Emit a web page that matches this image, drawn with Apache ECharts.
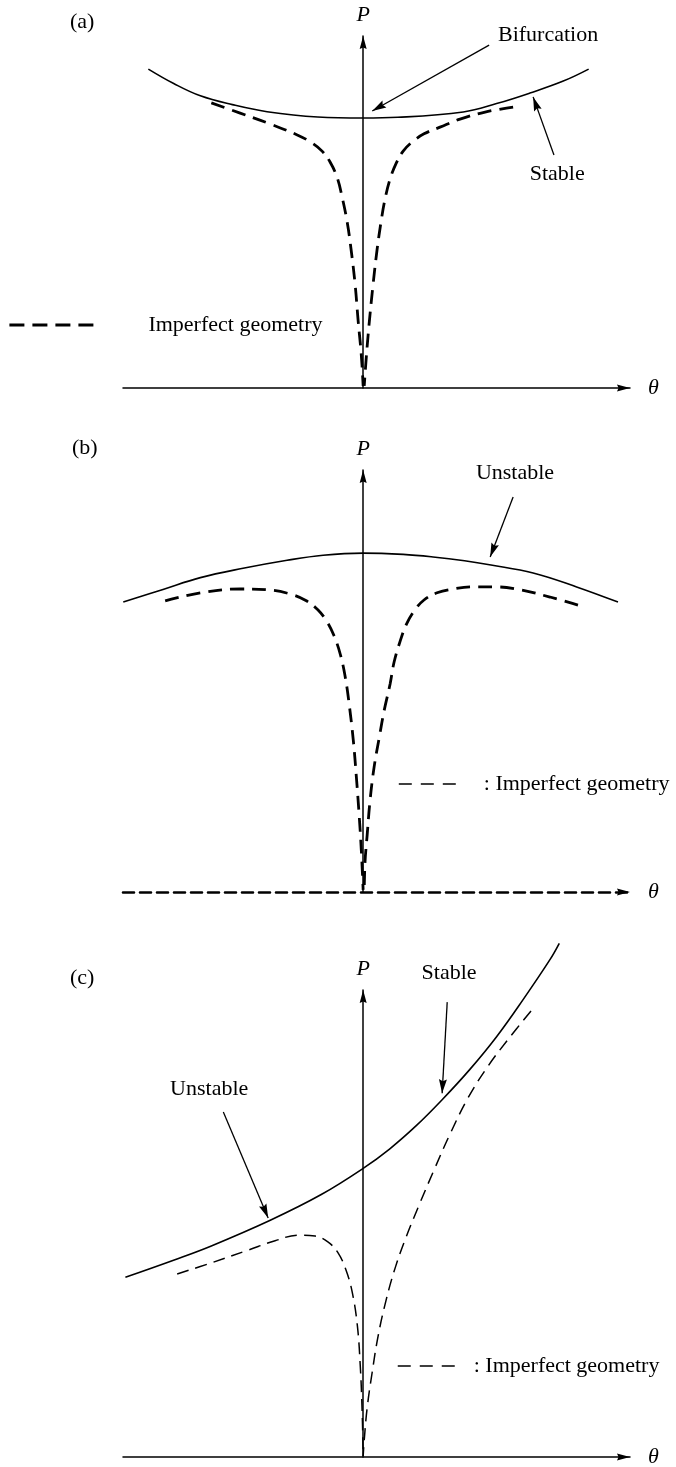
<!DOCTYPE html>
<html>
<head>
<meta charset="utf-8">
<script src="https://cdn.jsdelivr.net/npm/echarts@6/dist/echarts.min.js"></script>
<style>
  html, body { margin: 0; padding: 0; background: #fff; }
  #chart { width: 676px; height: 1467px; }
</style>
</head>
<body>
<div id="chart"></div>
<script>
// Load P against rotation θ: perfect path (solid) and imperfect-geometry path (dashed)
// for three kinds of bifurcation.

const thetaRange = [-0.9, 1.0];
const loadRange = [0, 1];

// (a) stable symmetric bifurcation
const perfectA = [[-0.805, 0.906], [-0.71, 0.865], [-0.61, 0.830], [-0.49, 0.805], [-0.36, 0.785],
  [-0.17, 0.770], [0, 0.767], [0.13, 0.769], [0.375, 0.784], [0.50, 0.808], [0.625, 0.838],
  [0.75, 0.872], [0.845, 0.906]];
const imperfectALeft = [[-0.569, 0.810], [-0.461, 0.781], [-0.348, 0.750], [-0.247, 0.719],
  [-0.191, 0.696], [-0.154, 0.673], [-0.124, 0.642], [-0.097, 0.597], [-0.079, 0.543],
  [-0.060, 0.472], [-0.045, 0.392], [-0.030, 0.293], [-0.019, 0.193], [-0.007, 0.094], [0, 0.006]];
const imperfectARight = [[0.562, 0.798], [0.457, 0.784], [0.363, 0.764], [0.288, 0.741],
  [0.228, 0.722], [0.184, 0.699], [0.150, 0.673], [0.124, 0.639], [0.101, 0.594], [0.082, 0.537],
  [0.067, 0.472], [0.052, 0.392], [0.037, 0.293], [0.022, 0.179], [0.011, 0.080], [0.004, 0.006]];
const notesA = [{ name: 'Bifurcation', value: [0.693, 1.003] }, { name: 'Stable', value: [0.727, 0.608] }];
const pointersA = [[[0.472, 0.974], [0.034, 0.787]], [[0.715, 0.662], [0.637, 0.827]]];

// (b) unstable symmetric bifurcation
const perfectB = [[-0.899, 0.687], [-0.75, 0.717], [-0.61, 0.745], [-0.45, 0.767], [-0.285, 0.786],
  [-0.15, 0.798], [0, 0.803], [0.15, 0.800], [0.262, 0.794], [0.38, 0.785], [0.479, 0.775],
  [0.637, 0.756], [0.80, 0.723], [0.955, 0.687]];
const imperfectBLeft = [[-0.742, 0.690], [-0.610, 0.709], [-0.461, 0.718], [-0.356, 0.716],
  [-0.273, 0.706], [-0.213, 0.690], [-0.169, 0.668], [-0.135, 0.640], [-0.109, 0.607],
  [-0.086, 0.564], [-0.067, 0.509], [-0.052, 0.443], [-0.037, 0.360], [-0.026, 0.277],
  [-0.015, 0.182], [-0.007, 0.100], [0, 0.005]];
const imperfectBRight = [[0.805, 0.680], [0.700, 0.699], [0.588, 0.716], [0.494, 0.723],
  [0.412, 0.723], [0.337, 0.718], [0.277, 0.709], [0.228, 0.692], [0.191, 0.666], [0.161, 0.633],
  [0.139, 0.595], [0.116, 0.545], [0.101, 0.493], [0.079, 0.431], [0.060, 0.365], [0.041, 0.296],
  [0.026, 0.218], [0.015, 0.135], [0.007, 0.071], [0.004, 0.005]];
const notesB = [{ name: 'Unstable', value: [0.569, 0.993] }];
const pointersB = [[[0.562, 0.936], [0.476, 0.794]]];

// (c) asymmetric bifurcation
const perfectC = [[-0.891, 0.385], [-0.708, 0.422], [-0.569, 0.452], [-0.348, 0.507],
  [-0.157, 0.562], [0, 0.618], [0.10, 0.660], [0.20, 0.710], [0.296, 0.765], [0.40, 0.830],
  [0.50, 0.900], [0.60, 0.980], [0.70, 1.065], [0.735, 1.100]];
const imperfectCLeft = [[-0.697, 0.392], [-0.573, 0.415], [-0.431, 0.443], [-0.330, 0.463],
  [-0.243, 0.475], [-0.180, 0.473], [-0.131, 0.460], [-0.094, 0.437], [-0.064, 0.400],
  [-0.041, 0.353], [-0.022, 0.283], [-0.011, 0.197], [-0.004, 0.101], [0, 0.004]];
const imperfectCRight = [[0.629, 0.955], [0.547, 0.897], [0.468, 0.837], [0.393, 0.769],
  [0.326, 0.692], [0.266, 0.615], [0.210, 0.540], [0.161, 0.471], [0.120, 0.405], [0.086, 0.336],
  [0.056, 0.259], [0.034, 0.182], [0.015, 0.105], [0.004, 0.036], [0, 0.002]];
const notesC = [{ name: 'Stable', value: [0.322, 1.036] }, { name: 'Unstable', value: [-0.577, 0.788] }];
const pointersC = [[[0.315, 0.974], [0.296, 0.779]], [[-0.524, 0.739], [-0.356, 0.512]]];

const panelLabels = ['(a)', '(b)', '(c)'];
const legendTexts = ['Imperfect geometry', ': Imperfect geometry', ': Imperfect geometry'];

const FONT = '"Liberation Serif", "Times New Roman", Times, serif';
const INK = '#000';

// Arrowhead for the pointer lines: the square box puts the tip at the symbol centre,
// so the head ends exactly on the pointed-at curve.
const POINTER_HEAD = 'path://M0,0 M28,28 M14,14 L18,28 L14,26 L10,28 Z';
// Arrowhead for the axes (tip at top centre of its box).
const AXIS_HEAD = 'path://M0,0 L3.5,13 L0,11.5 L-3.5,13 Z';

const panels = [
  { key: 'a', top: 36, height: 352, perfect: perfectA, left: imperfectALeft, right: imperfectARight,
    notes: notesA, pointers: pointersA, dash: [14, 8], dashWidth: 2.8, axisDash: null,
    label: { left: 65, top: 6 },
    legend: { left: 8, top: 314, itemWidth: 89, pad: 45, width: 2.8, type: [15, 8] } },
  { key: 'b', top: 470, height: 422, perfect: perfectB, left: imperfectBLeft, right: imperfectBRight,
    notes: notesB, pointers: pointersB, dash: [14, 8], dashWidth: 2.8, axisDash: [11, 6],
    label: { left: 67, top: 432 },
    legend: { left: 398, top: 773, itemWidth: 57, pad: 23, width: 1.6, type: [13, 9] } },
  { key: 'c', top: 990, height: 467, perfect: perfectC, left: imperfectCLeft, right: imperfectCRight,
    notes: notesC, pointers: pointersC, dash: [12, 7], dashWidth: 1.5, axisDash: null,
    label: { left: 65, top: 962 },
    legend: { left: 397, top: 1355, itemWidth: 57, pad: 14, width: 1.5, type: [13, 9] } }
];

const textStyle = { fontFamily: FONT, fontSize: 22, color: INK };

const grid = panels.map(p => ({
  left: 123, width: 507, top: p.top, height: p.height, containLabel: false, outerBoundsMode: 'none'
}));

function axisLine(lineStyle) {
  return {
    show: true, onZero: true, symbol: ['none', AXIS_HEAD], symbolSize: [7, 13], symbolOffset: [0, -6.5],
    lineStyle
  };
}

const xAxis = panels.map((p, i) => ({
  type: 'value', gridIndex: i, min: thetaRange[0], max: thetaRange[1],
  name: 'θ', nameLocation: 'end', nameGap: 18,
  nameTextStyle: Object.assign({}, textStyle, { fontStyle: 'italic' }),
  axisLine: axisLine(p.axisDash ? { color: INK, width: 2.6, type: p.axisDash } : { color: INK, width: 1.5 }),
  axisTick: { show: false }, axisLabel: { show: false }, splitLine: { show: false }
}));

const yAxis = panels.map((p, i) => ({
  type: 'value', gridIndex: i, min: loadRange[0], max: loadRange[1],
  name: 'P', nameLocation: 'end', nameGap: 10,
  nameTextStyle: Object.assign({}, textStyle, { fontStyle: 'italic' }),
  axisLine: axisLine({ color: INK, width: 1.5 }),
  axisTick: { show: false }, axisLabel: { show: false }, splitLine: { show: false }
}));

const series = [];
panels.forEach((p, i) => {
  const base = { xAxisIndex: i, yAxisIndex: i, silent: true, clip: false, animation: false };
  series.push(Object.assign({}, base, {
    type: 'line', name: 'perfect-' + p.key, data: p.perfect, smooth: 0.4, symbol: 'none',
    lineStyle: { color: INK, width: 1.6 }
  }));
  [p.left, p.right].forEach(branch => {
    series.push(Object.assign({}, base, {
      type: 'line', name: 'imperfect-' + p.key, data: branch, smooth: 0.4, symbol: 'none',
      itemStyle: { color: INK },
      lineStyle: { color: INK, width: p.dashWidth, type: p.dash }
    }));
  });
  series.push(Object.assign({}, base, {
    type: 'scatter', name: 'notes-' + p.key, data: p.notes, symbolSize: 1,
    itemStyle: { color: '#fff', opacity: 1 },
    label: Object.assign({ show: true, position: 'inside', formatter: '{b}', opacity: 1 }, textStyle),
    markLine: {
      silent: true, animation: false,
      symbol: ['none', POINTER_HEAD], symbolSize: 28,
      label: { show: false },
      lineStyle: { type: 'solid', color: INK, width: 1.3, opacity: 1 },
      emphasis: { disabled: true },
      data: p.pointers.map(seg => [{ coord: seg[0] }, { coord: seg[1] }])
    }
  }));
});

const legend = panels.map((p, i) => ({
  data: ['imperfect-' + p.key], left: p.legend.left, top: p.legend.top, padding: 0,
  orient: 'horizontal', selectedMode: false,
  itemWidth: p.legend.itemWidth, itemHeight: 14,
  formatter: () => legendTexts[i],
  itemStyle: { opacity: 0 },
  lineStyle: { color: INK, width: p.legend.width, type: p.legend.type },
  textStyle: Object.assign({}, textStyle, { padding: [0, 0, 0, p.legend.pad] })
}));

const title = panels.map((p, i) => ({
  text: panelLabels[i], left: p.label.left, top: p.label.top,
  textStyle: Object.assign({}, textStyle, { fontWeight: 'normal' })
}));

const chart = echarts.init(document.getElementById('chart'), null, { renderer: 'canvas' });
chart.setOption({
  backgroundColor: '#fff',
  animation: false,
  title, legend, grid, xAxis, yAxis, series
});
</script>
</body>
</html>
